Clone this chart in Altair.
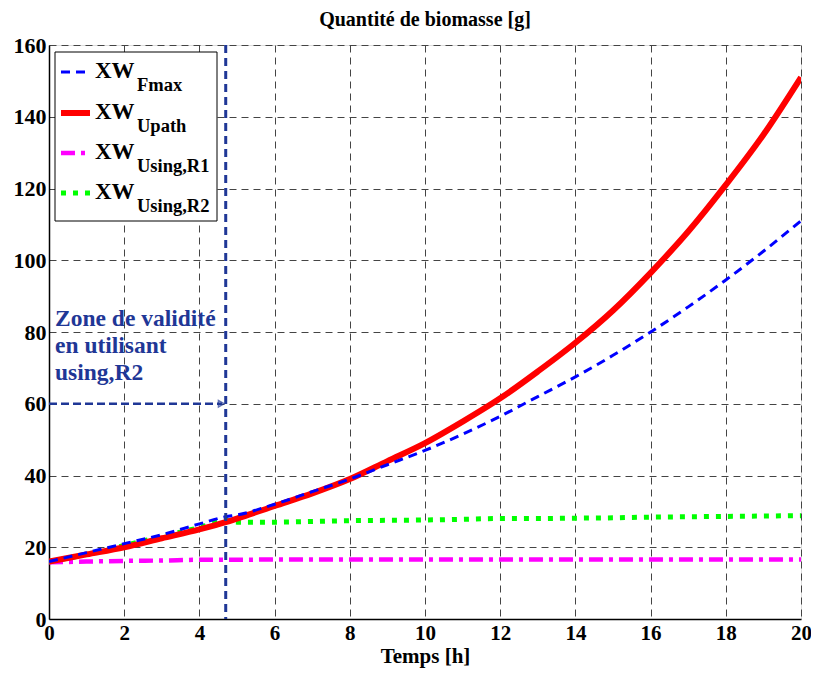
import altair as alt
import pandas as pd

# ---- data ----
t = [0, 1, 2, 3, 4, 4.7, 5, 6, 7, 8, 9, 10, 11, 12, 13, 14, 15, 16, 17, 18, 19, 20]
xw_fmax = [16, 18.5, 21, 23.5, 26.5, 28.5, 29, 32, 35.5, 39, 43, 47, 51.5, 56.5, 62, 67.5, 73.5, 80, 87, 94.5, 102.5, 111]
xw_upath = [16, 18, 20, 22.5, 25, 27, 28, 31.5, 35, 39, 44, 49, 55, 61.5, 69, 77, 86, 96.5, 108, 121, 135, 151]
xw_r1 = [15.8, 16, 16.2, 16.3, 16.5, 16.5, 16.5, 16.6, 16.6, 16.6, 16.6, 16.6, 16.6, 16.6, 16.6, 16.6, 16.6, 16.6, 16.6, 16.6, 16.6, 16.6]
xw_r2 = [16, 18, 20.5, 23, 25.5, 27.5, 27, 27, 27.2, 27.4, 27.5, 27.6, 27.8, 28, 28, 28.1, 28.2, 28.4, 28.5, 28.6, 28.7, 28.8]

x_ticks = [0, 2, 4, 6, 8, 10, 12, 14, 16, 18, 20]
y_ticks = [0, 20, 40, 60, 80, 100, 120, 140, 160]

t_valid = 4.7
arrow_y = 60
zone_text = ["Zone de validité", "en utilisant", "using,R2"]

legend_main = ["XW", "XW", "XW", "XW"]
legend_sub = ["Fmax", "Upath", "Using,R1", "Using,R2"]

FONT = "Liberation Serif"
DARKBLUE = "#1f3796"

W, H = 752, 574

xs = alt.Scale(domain=[0, 20], nice=False, zero=False)
ys = alt.Scale(domain=[0, 160], nice=False)

xaxis = alt.Axis(values=x_ticks, title="Temps [h]", grid=True, gridDash=[7, 5],
                 gridColor="#444", gridWidth=1, ticks=False, labelPadding=3,
                 labelFlush=False, titlePadding=2, labelFont=FONT, labelFontSize=21,
                 labelFontWeight="bold", labelColor="black", titleFont=FONT,
                 titleFontSize=21, titleFontWeight="bold", titleColor="black",
                 domainColor="black", domainWidth=1.5, format="d")
yaxis = alt.Axis(values=y_ticks, title=None, grid=True, gridDash=[7, 5],
                 gridColor="#444", gridWidth=1, ticks=False, labelPadding=3,
                 labelFlush=False, labelFont=FONT, labelFontSize=22, labelFontWeight="bold",
                 labelColor="black", domainColor="black", domainWidth=1.5, format="d")


def series(vals, color, width, dash=None):
    df = pd.DataFrame({"t": t, "v": vals})
    kw = dict(color=color, strokeWidth=width, clip=True, interpolate="monotone")
    if dash:
        kw["strokeDash"] = dash
    return alt.Chart(df).mark_line(**kw).encode(
        x=alt.X("t:Q", scale=xs, axis=xaxis),
        y=alt.Y("v:Q", scale=ys, axis=yaxis),
    )


l_r1 = series(xw_r1, "#ff00ff", 4.5, [14, 6, 4, 6])
l_r2 = series(xw_r2, "#00ff00", 5, [5, 7])
l_up = series(xw_upath, "#ff0000", 6)
l_fm = series(xw_fmax, "#0000ff", 3, [9, 6])

vline = alt.Chart(pd.DataFrame({"t": [t_valid]})).mark_rule(
    color=DARKBLUE, strokeWidth=3, strokeDash=[8, 5]).encode(
    x=alt.X("t:Q", scale=xs))

arrow_df = pd.DataFrame({"t0": [0], "t1": [t_valid - 0.1], "v": [arrow_y]})
arrow = alt.Chart(arrow_df).mark_rule(color=DARKBLUE, strokeWidth=2.5, strokeDash=[8, 4]).encode(
    x=alt.X("t0:Q", scale=xs), x2="t1:Q", y=alt.Y("v:Q", scale=ys))
head = alt.Chart(pd.DataFrame({"t": [t_valid - 0.12], "v": [arrow_y]})).mark_point(
    shape="triangle-right", filled=False, color=DARKBLUE, size=40, strokeWidth=1.5).encode(
    x=alt.X("t:Q", scale=xs), y=alt.Y("v:Q", scale=ys))

zone = alt.Chart(pd.DataFrame({"t": [0.16], "v": [81.7]})).mark_text(
    text=zone_text, align="left", baseline="alphabetic", font=FONT, fontSize=23.5,
    fontWeight="bold", color=DARKBLUE, lineHeight=27).encode(
    x=alt.X("t:Q", scale=xs), y=alt.Y("v:Q", scale=ys))

# ---- legend (drawn by hand, MATLAB style) ----
one = pd.DataFrame({"a": [0]})
leg_layers = [alt.Chart(one).mark_rect(fill="white", stroke="black", strokeWidth=1).encode(
    x=alt.value(6), x2=alt.value(168), y=alt.value(7), y2=alt.value(176))]
styles = [("#0000ff", 3, [9, 6]), ("#ff0000", 6, None), ("#ff00ff", 4.5, [14, 6, 4, 6]), ("#00ff00", 5, [5, 7])]
rows = [27, 68, 108, 148]
for (col, w, dash), yy, m, s in zip(styles, rows, legend_main, legend_sub):
    kw = dict(color=col, strokeWidth=w)
    if dash:
        kw["strokeDash"] = dash
    leg_layers.append(alt.Chart(one).mark_rule(**kw).encode(
        x=alt.value(12), x2=alt.value(41), y=alt.value(yy)))
    leg_layers.append(alt.Chart(one).mark_text(
        text=m, align="left", baseline="alphabetic", font=FONT, fontSize=23,
        fontWeight="bold", color="black").encode(x=alt.value(46), y=alt.value(yy + 6)))
    leg_layers.append(alt.Chart(one).mark_text(
        text=s, align="left", baseline="alphabetic", font=FONT, fontSize=18.5,
        fontWeight="bold", color="black").encode(x=alt.value(88), y=alt.value(yy + 19)))

chart = alt.layer(
    l_r1, l_r2, l_up, l_fm, vline, arrow, head, zone, *leg_layers
).properties(
    width=W, height=H,
    title=alt.Title("Quantité de biomasse [g]", font=FONT, fontSize=20,
                    fontWeight="bold", color="black", offset=4),
    autosize=alt.AutoSizeParams(type="none"),
    padding={"left": 41, "top": 37, "right": 10, "bottom": 50},
).configure_view(stroke="black", strokeWidth=1.5).configure(background="white")

chart.save("out.html", embed_options={"renderer": "svg", "actions": False})
